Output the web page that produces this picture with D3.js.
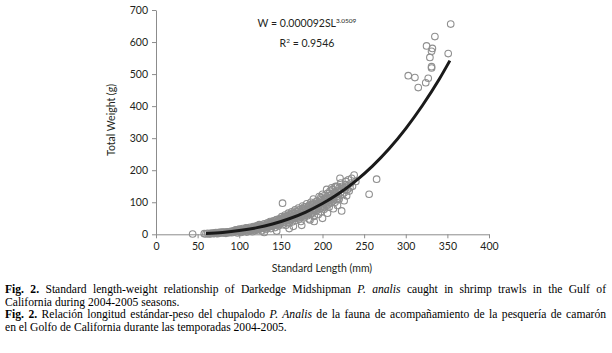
<!DOCTYPE html>
<html>
<head>
<meta charset="utf-8">
<script src="https://cdn.jsdelivr.net/npm/d3@7"></script>
<style>
  body { margin: 0; background: #fff; }
  svg { display: block; }
</style>
</head>
<body>
<div id="chart"></div>
<script>
// Scatter of standard length (mm) vs total weight (g)
const lengths = [
  44, 58, 60, 62, 65, 68, 70, 72, 74, 76, 78, 80, 82, 84, 86, 88,
  90, 91, 93, 94, 96, 97, 98, 99, 100, 101, 102, 103, 104, 105, 106, 107, 108, 109, 110, 111, 112, 113, 114, 115, 116, 117, 118, 119, 120,
  121, 122, 123, 124, 125, 126, 127, 128, 129, 130, 131, 132, 133, 134, 135, 136, 137, 138, 139, 140, 141, 142, 143, 144, 145, 146, 147, 148, 149, 150,
  151, 152, 152, 153, 154, 155, 156, 157, 158, 159, 160, 161, 162, 163, 164, 165, 166, 167, 168, 169, 170, 171, 172, 173, 174, 175, 176, 177, 178, 179, 180,
  181, 182, 183, 184, 185, 186, 187, 188, 189, 190, 191, 192, 193, 194, 195, 196, 197, 198, 199, 200, 201, 202, 203, 204, 205, 206, 207, 208, 209, 210,
  211, 212, 213, 214, 215, 216, 217, 218, 219, 220, 221, 222, 223, 224, 225, 226, 227, 228, 229, 230, 232, 234, 236, 238, 240,
  95, 100, 105, 110, 115, 120, 125, 130, 135, 140, 145, 150, 155, 160, 165, 170, 175, 180, 185, 190, 195, 200, 205, 210, 215, 220,
  103, 108, 113, 118, 123, 128, 133, 138, 143, 148, 153, 158, 163, 168, 173, 178, 183, 188, 193, 198, 203, 208, 213, 218,
  130, 145, 160, 175, 190, 200, 165, 185,
  64, 66, 69, 71, 73, 75, 77, 79, 81, 83, 85, 87, 89, 92, 95, 98,
  100, 102, 104, 106, 107, 109, 111, 112, 114, 116, 117, 119, 120, 122, 123, 125, 126, 127, 129, 130,
  131, 132, 133, 134, 135, 136, 137, 138, 139, 140, 141, 142, 143, 144, 145, 146, 147, 148, 149, 150, 151, 152, 153, 154, 155, 156, 157, 158, 159, 160,
  161, 162, 163, 164, 165, 166, 167, 168, 169, 170, 171, 172, 173, 174, 175, 176, 177, 178, 179, 180, 181, 182, 183, 184, 185, 186, 187, 188, 189, 190,
  191, 192, 193, 194, 195, 196, 197, 198, 199, 200, 201, 202, 203, 204, 205, 206, 207, 208, 209, 210, 211, 212, 213, 214, 215, 216, 217, 218, 219, 220,
  222, 224, 226, 228, 230, 231, 233, 235,
  256, 265, 303, 311, 315, 324, 327, 325, 329, 331, 331, 332, 335, 331, 351, 354
];
const weights = [
  1, 2, 1, 3, 2, 4, 3, 5, 2, 6, 4, 7, 5, 3, 8, 6,
  9, 5, 11, 7, 14, 9, 4, 12, 16, 10, 6, 13, 18, 9, 15, 11, 20, 7, 14, 17, 10, 22, 13, 19, 8, 24, 16, 12, 21,
  26, 14, 19, 30, 17, 23, 11, 28, 20, 33, 24, 15, 29, 36, 22, 27, 40, 18, 31, 25, 38, 34, 21, 44, 29, 36, 26, 48, 33, 40,
  55, 97, 30, 45, 38, 60, 28, 50, 42, 66, 35, 55, 47, 70, 39, 58, 52, 76, 44, 63, 57, 82, 48, 68, 40, 60, 88, 72, 52, 66, 78,
  95, 58, 70, 48, 84, 100, 64, 76, 110, 56, 90, 72, 104, 82, 62, 118, 94, 70, 86, 125, 100, 78, 112, 92, 140, 66, 105, 85, 120, 98,
  145, 110, 80, 130, 100, 150, 118, 90, 135, 110, 175, 160, 73, 125, 145, 105, 140, 165, 120, 150, 135, 160, 150, 185, 165,
  10, 13, 14, 19, 15, 17, 25, 27, 31, 35, 40, 45, 50, 52, 64, 70, 75, 68, 72, 80, 96, 88, 108, 115, 122, 138,
  8, 12, 16, 20, 23, 22, 25, 34, 30, 40, 36, 48, 55, 58, 55, 85, 88, 92, 90, 108, 95, 128, 118, 108,
  6, 10, 18, 28, 40, 50, 25, 45,
  1, 3, 2, 4, 3, 4, 5, 6, 4, 7, 6, 5, 8, 8, 12, 9,
  9, 14, 11, 12, 16, 13, 12, 18, 16, 14, 18, 17, 25, 20, 16, 21, 28, 19, 24, 20,
  29, 26, 20, 31, 27, 33, 24, 37, 28, 30, 42, 28, 35, 33, 46, 31, 42, 35, 45, 36, 47, 42, 52, 47, 42, 55, 46, 58, 50, 45,
  62, 52, 48, 66, 55, 60, 50, 70, 56, 63, 52, 76, 62, 68, 55, 80, 62, 74, 58, 86, 68, 78, 62, 90, 76, 66, 94, 80, 70, 96,
  80, 88, 74, 102, 86, 92, 80, 115, 96, 105, 85, 120, 102, 110, 90, 128, 112, 100, 135, 108, 125, 140, 105, 118, 148, 128, 110, 150, 125, 145,
  132, 150, 130, 155, 140, 170, 145, 175,
  125, 172, 495, 489, 458, 473, 487, 588, 552, 523, 519, 580, 617, 571, 564, 656
];

// Fitted power curve
const fitLength = [60, 80, 100, 120, 140, 160, 180, 200, 220, 240, 260, 280, 300, 320, 340, 353];
const fitWeight = [2.4, 5.9, 11.6, 20, 32, 48.5, 69.5, 96, 128, 167, 213, 267, 330, 402, 483, 542];

const xTicks = [0, 50, 100, 150, 200, 250, 300, 350, 400];
const yTicks = [0, 100, 200, 300, 400, 500, 600, 700];

const width = 612, height = 353;
const chartFont = "Lato, 'Open Sans', sans-serif";
const captionFont = "'Liberation Serif', 'Times New Roman', serif";

const svg = d3.select("#chart").append("svg")
    .attr("width", width)
    .attr("height", height);

const x = d3.scaleLinear().domain([0, 400]).range([156, 489]);
const y = d3.scaleLinear().domain([0, 700]).range([234.3, 10]);

// Axes
const xAxis = svg.append("g")
    .attr("transform", `translate(0,${y(0)})`)
    .call(d3.axisBottom(x).tickValues(xTicks).tickSize(4).tickSizeOuter(0).tickPadding(4));
const yAxis = svg.append("g")
    .attr("transform", `translate(${x(0)},0)`)
    .call(d3.axisLeft(y).tickValues(yTicks).tickSize(4).tickSizeOuter(0).tickPadding(4));

[xAxis, yAxis].forEach(g => {
    g.selectAll("path, line").attr("stroke", "#8c8c8c").attr("stroke-width", 1);
    g.selectAll("text")
        .attr("fill", "#231f20")
        .style("font-family", chartFont)
        .style("font-size", "10.5px");
});

// Points
svg.append("g")
    .selectAll("circle")
    .data(lengths.map((l, i) => [l, weights[i]]))
    .join("circle")
    .attr("cx", d => x(d[0]))
    .attr("cy", d => y(d[1]))
    .attr("r", 3.3)
    .attr("fill", "none")
    .attr("stroke", "#8f8f8f")
    .attr("stroke-width", 1.1);

// Fit line
const line = d3.line()
    .x(d => x(d[0]))
    .y(d => y(d[1]))
    .curve(d3.curveMonotoneX);
svg.append("path")
    .datum(fitLength.map((l, i) => [l, fitWeight[i]]))
    .attr("d", line)
    .attr("fill", "none")
    .attr("stroke", "#1a1a1a")
    .attr("stroke-width", 3);

// Axis titles
svg.append("text")
    .attr("x", 322)
    .attr("y", 272)
    .attr("text-anchor", "middle")
    .attr("fill", "#231f20")
    .style("font-family", chartFont)
    .style("font-size", "10.5px")
    .text("Standard Length (mm)");
svg.append("text")
    .attr("transform", "translate(115,120) rotate(-90)")
    .attr("text-anchor", "middle")
    .attr("fill", "#231f20")
    .style("font-family", chartFont)
    .style("font-size", "10.5px")
    .text("Total Weight (g)");

// Equation
const eq = svg.append("text")
    .attr("x", 307)
    .attr("y", 27)
    .attr("text-anchor", "middle")
    .attr("fill", "#231f20")
    .style("font-family", chartFont)
    .style("font-size", "10.5px");
eq.append("tspan").text("W = 0.000092SL");
eq.append("tspan").attr("dy", -4).style("font-size", "6.5px").text("3.0509");
const r2 = svg.append("text")
    .attr("x", 307)
    .attr("y", 47)
    .attr("text-anchor", "middle")
    .attr("fill", "#231f20")
    .style("font-family", chartFont)
    .style("font-size", "10.5px");
r2.append("tspan").text("R");
r2.append("tspan").attr("dy", -4).style("font-size", "6.5px").text("2");
r2.append("tspan").attr("dy", 4).text(" = 0.9546");

// Caption
const captionLines = [
    { y: 293, justify: 601, parts: [["Fig. 2.", "bold"], [" Standard length-weight relationship of Darkedge Midshipman ", ""], ["P. analis", "italic"], [" caught in shrimp trawls in the Gulf of", ""]] },
    { y: 305.5, justify: 0, parts: [["California during 2004-2005 seasons.", ""]] },
    { y: 318, justify: 601, parts: [["Fig. 2.", "bold"], [" Relación longitud estándar-peso del chupalodo ", ""], ["P. Analis", "italic"], [" de la fauna de acompañamiento de la pesquería de camarón", ""]] },
    { y: 330.5, justify: 0, parts: [["en el Golfo de California durante las temporadas 2004-2005.", ""]] }
];
captionLines.forEach(c => {
    const t = svg.append("text")
        .attr("x", 5)
        .attr("y", c.y)
        .attr("fill", "#000")
        .style("font-family", captionFont)
        .style("font-size", "11.6px");
    c.parts.forEach(p => {
        const s = t.append("tspan").text(p[0]);
        if (p[1] === "bold") s.style("font-weight", "bold");
        if (p[1] === "italic") s.style("font-style", "italic");
    });
    if (c.justify) {
        // justify by widening the word gaps, or squeeze if too long
        const natural = t.node().getComputedTextLength();
        const gaps = c.parts.map(p => p[0]).join("").split(" ").length - 1;
        const extra = (c.justify - natural) / gaps;
        if (extra > 0) t.style("word-spacing", extra + "px");
        else t.attr("textLength", c.justify).attr("lengthAdjust", "spacingAndGlyphs");
    }
});
</script>
</body>
</html>
